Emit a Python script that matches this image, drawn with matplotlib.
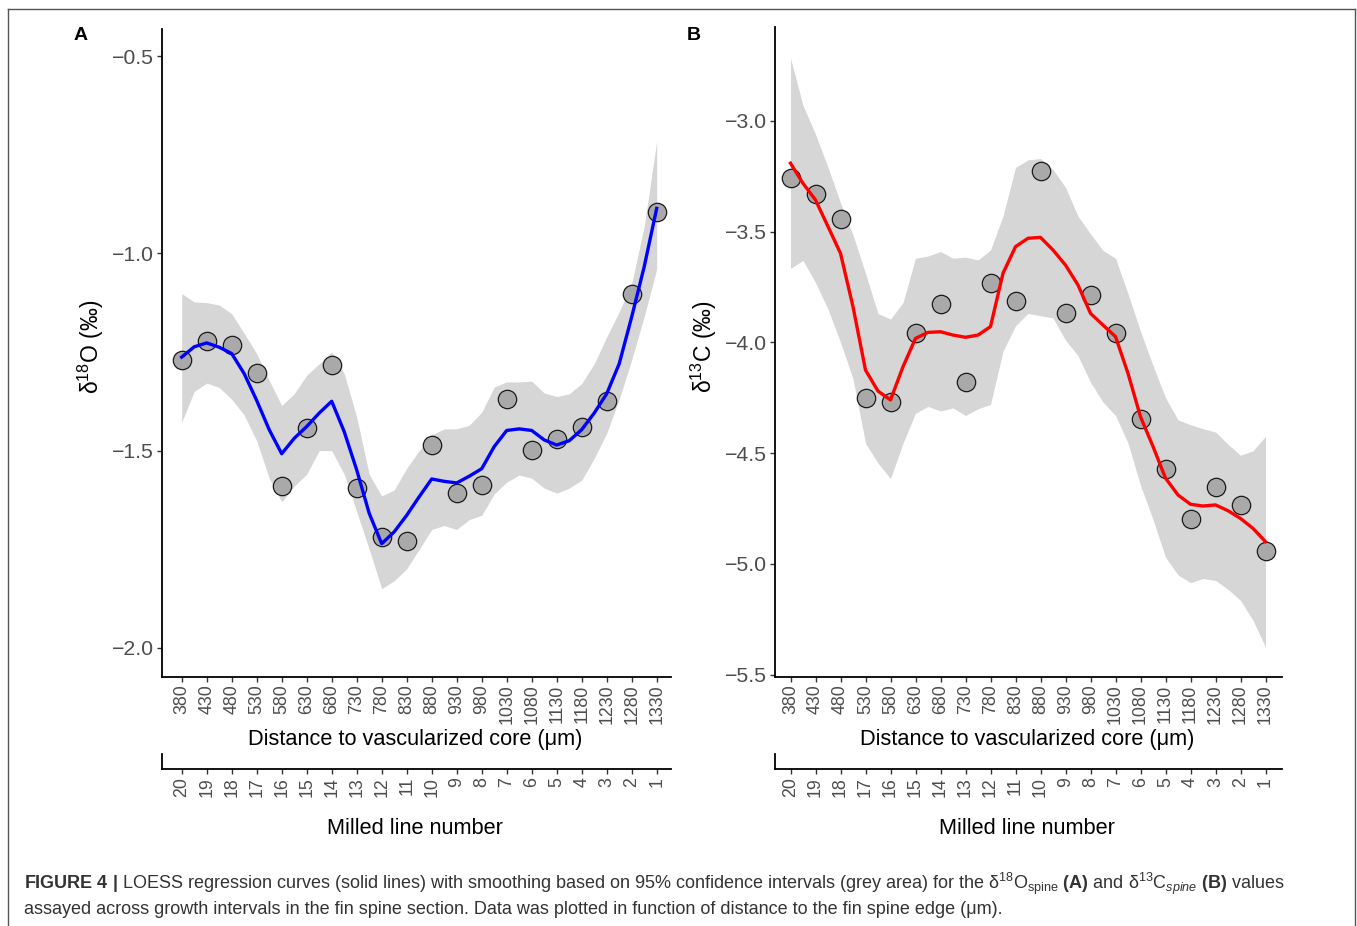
import numpy as np
import matplotlib
matplotlib.use("Agg")
import matplotlib.pyplot as plt
from matplotlib.lines import Line2D

plt.rcParams['font.family'] = ['Liberation Sans', 'DejaVu Sans']
plt.rcParams['mathtext.fontset'] = 'custom'
plt.rcParams['mathtext.rm'] = 'Liberation Sans'
plt.rcParams['mathtext.it'] = 'Liberation Sans:italic'
plt.rcParams['mathtext.bf'] = 'Liberation Sans:bold'

# measured points
distance = [380, 430, 480, 530, 580, 630, 680, 730, 780, 830,
            880, 930, 980, 1030, 1080, 1130, 1180, 1230, 1280, 1330]
milled = [20, 19, 18, 17, 16, 15, 14, 13, 12, 11,
          10, 9, 8, 7, 6, 5, 4, 3, 2, 1]

d18O = [-1.270, -1.223, -1.233, -1.303, -1.590, -1.443, -1.284, -1.594, -1.720, -1.729,
        -1.487, -1.608, -1.587, -1.369, -1.498, -1.471, -1.439, -1.375, -1.102, -0.894]
d13C = [-3.256, -3.331, -3.444, -4.250, -4.268, -3.959, -3.827, -4.178, -3.733, -3.813,
        -3.226, -3.869, -3.786, -3.959, -4.348, -4.573, -4.799, -4.654, -4.734, -4.941]

# loess curves + 95% band, every 25 um
fit_x = np.arange(380, 1331, 25)

fitO = [-1.263, -1.237, -1.227, -1.238, -1.254, -1.305, -1.373, -1.447, -1.508, -1.469,
        -1.439, -1.405, -1.375, -1.452, -1.549, -1.659, -1.736, -1.706, -1.664, -1.617,
        -1.572, -1.578, -1.582, -1.565, -1.546, -1.490, -1.449, -1.445, -1.449, -1.473,
        -1.486, -1.475, -1.447, -1.405, -1.356, -1.280, -1.161, -1.034, -0.886]
fitO_hi = [-1.102, -1.123, -1.125, -1.131, -1.153, -1.203, -1.254, -1.322, -1.386, -1.356,
           -1.309, -1.280, -1.250, -1.305, -1.415, -1.560, -1.615, -1.600, -1.545, -1.500,
           -1.460, -1.445, -1.445, -1.436, -1.403, -1.339, -1.326, -1.326, -1.324, -1.354,
           -1.363, -1.356, -1.330, -1.280, -1.212, -1.148, -1.076, -0.932, -0.716]
fitO_lo = [-1.428, -1.350, -1.329, -1.340, -1.370, -1.410, -1.475, -1.570, -1.630, -1.590,
           -1.560, -1.500, -1.500, -1.560, -1.655, -1.750, -1.850, -1.830, -1.800, -1.750,
           -1.700, -1.690, -1.700, -1.675, -1.664, -1.610, -1.580, -1.562, -1.570, -1.595,
           -1.608, -1.595, -1.575, -1.520, -1.456, -1.370, -1.270, -1.160, -1.040]

fitC = [-3.191, -3.282, -3.357, -3.477, -3.598, -3.839, -4.125, -4.220, -4.260, -4.110,
        -3.982, -3.955, -3.952, -3.967, -3.977, -3.967, -3.929, -3.688, -3.568, -3.530,
        -3.526, -3.583, -3.651, -3.741, -3.869, -3.922, -3.974, -4.140, -4.336, -4.470,
        -4.613, -4.689, -4.731, -4.739, -4.734, -4.760, -4.795, -4.840, -4.900]
fitC_hi = [-2.717, -2.930, -3.060, -3.210, -3.370, -3.515, -3.688, -3.870, -3.895, -3.820,
           -3.620, -3.610, -3.590, -3.620, -3.615, -3.628, -3.583, -3.430, -3.210, -3.176,
           -3.170, -3.220, -3.300, -3.430, -3.510, -3.585, -3.620, -3.780, -3.950, -4.105,
           -4.250, -4.350, -4.372, -4.390, -4.405, -4.460, -4.510, -4.490, -4.424]
fitC_lo = [-3.666, -3.630, -3.730, -3.850, -4.000, -4.165, -4.455, -4.545, -4.615, -4.455,
           -4.320, -4.289, -4.310, -4.296, -4.330, -4.300, -4.280, -4.040, -3.925, -3.869,
           -3.880, -3.890, -3.990, -4.060, -4.180, -4.270, -4.330, -4.455, -4.645, -4.800,
           -4.970, -5.050, -5.085, -5.066, -5.075, -5.115, -5.165, -5.255, -5.376]

W, H = 1357, 926
fig = plt.figure(figsize=(W / 100, H / 100), dpi=100)

tick_grey = '#4d4d4d'


def px_axes(x0, x1, y0, y1):
    # pixel box (y measured from the top) -> figure fraction
    return fig.add_axes([x0 / W, 1 - y1 / H, (x1 - x0) / W, (y1 - y0) / H])


def style(ax):
    for s in ['top', 'right']:
        ax.spines[s].set_visible(False)
    for s in ['left', 'bottom']:
        ax.spines[s].set_linewidth(1.3)
        ax.spines[s].set_color('black')


def panel(x0, x1, ytop, xlim, ylim, yticks, pts, fit, lo, hi, colour, ylab, letter):
    ax = px_axes(x0, x1, ytop, 677)
    ax.fill_between(fit_x, lo, hi, color='#d6d6d6', lw=0, zorder=1)
    ax.scatter(distance, pts, s=175, facecolor='#a9a9a9', edgecolor='#1a1a1a',
               linewidth=0.9, zorder=2)
    ax.plot(fit_x, fit, color=colour, lw=2.4, zorder=3, solid_joinstyle='round')
    ax.set_xlim(*xlim)
    ax.set_ylim(*ylim)
    ax.set_yticks(yticks)
    ax.set_yticklabels(['\u2212%.1f' % abs(v) for v in yticks])
    ax.set_xticks(distance)
    ax.set_xticklabels([str(d) for d in distance], rotation=90)
    ax.tick_params(axis='y', length=3.5, width=1, color='#333333',
                   labelsize=15.3, labelcolor=tick_grey, pad=2)
    ax.tick_params(axis='x', length=3.5, width=1, color='#333333',
                   labelsize=12.8, labelcolor=tick_grey, pad=2)
    style(ax)

    # second scale: milled line number
    ax2 = px_axes(x0, x1, 753.5, 769.3)
    ax2.set_xlim(*xlim)
    ax2.set_ylim(0, 1)
    ax2.set_yticks([])
    ax2.set_xticks(distance)
    ax2.set_xticklabels([str(m) for m in milled], rotation=90)
    ax2.tick_params(axis='x', length=3.5, width=1, color='#333333',
                    labelsize=12.8, labelcolor=tick_grey, pad=2)
    ax2.patch.set_visible(False)
    style(ax2)

    xc = (x0 + x1) / 2 - 1
    fig.text(xc / W, 1 - 739 / H, 'Distance to vascularized core (\u03bcm)',
             ha='center', va='center', fontsize=15.7)
    fig.text(xc / W, 1 - 829 / H, 'Milled line number',
             ha='center', va='center', fontsize=15.7)
    fig.text((x0 - 71) / W, 1 - 347 / H, ylab, rotation=90,
             ha='center', va='center', fontsize=16.5)
    fig.text((x0 - 81) / W, 1 - 35 / H, letter, ha='center', va='center',
             fontsize=14, fontweight='bold')
    return ax


panel(161.7, 670.7, 28.5, (340, 1358), (-2.074, -0.43), [-2.0, -1.5, -1.0, -0.5],
      d18O, fitO, fitO_lo, fitO_hi, '#0000ff', '\u03b4$^{18}$O (\u2030)', 'A')
panel(775, 1281.5, 27, (349, 1362), (-5.511, -2.576), [-5.5, -5.0, -4.5, -4.0, -3.5, -3.0],
      d13C, fitC, fitC_lo, fitC_hi, '#ff0000', '\u03b4$^{13}$C (\u2030)', 'B')

# frame around the figure (open at the bottom)
for xs, ys in [([8, 8], [926, 9]), ([8, 1355], [9, 9]), ([1355, 1355], [9, 926])]:
    fig.add_artist(Line2D([x / W for x in xs], [1 - y / H for y in ys],
                          transform=fig.transFigure, color='#555555', lw=1))

cap1 = (r'$\mathbf{FIGURE\ 4\ |}$ LOESS regression curves (solid lines) with smoothing based on '
        '95% confidence intervals (grey area) for the \u03b4$^{18}$O$_{\\rm spine}$ '
        r'$\mathbf{(A)}$ and ' '\u03b4$^{13}$C$_{spine}$ ' r'$\mathbf{(B)}$ values')
cap2 = ('assayed across growth intervals in the fin spine section. Data was plotted in '
        'function of distance to the fin spine edge (\u03bcm).')
fig.text(24 / W, 1 - 884 / H, cap1, ha='left', va='center', fontsize=13, color='#333333')
fig.text(24 / W, 1 - 910 / H, cap2, ha='left', va='center', fontsize=13, color='#333333')

fig.savefig('out.png', dpi=100)
